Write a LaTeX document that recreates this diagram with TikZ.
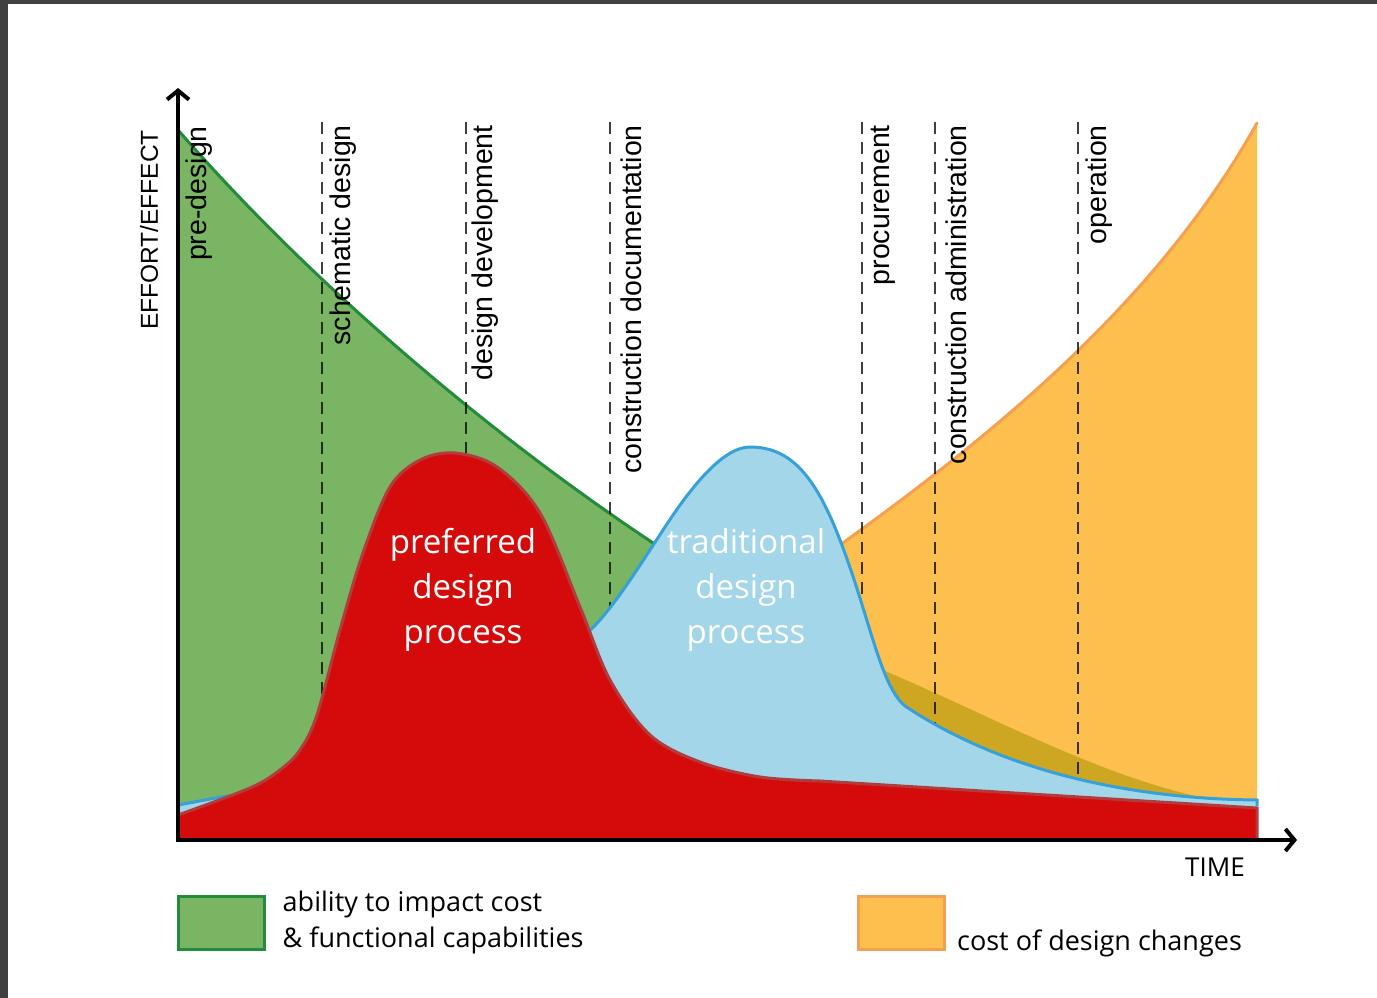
\documentclass[tikz,border=0pt]{standalone}
\usepackage{fontspec}
\setmainfont{Liberation Sans}
\newfontfamily\keyfont{Open Sans}
\usetikzlibrary{positioning,arrows.meta}

\definecolor{abilgreen}{RGB}{121,181,98}
\definecolor{abilline}{RGB}{34,139,60}
\definecolor{costorange}{RGB}{253,192,79}
\definecolor{costline}{RGB}{245,160,80}
\definecolor{overlap}{RGB}{205,166,34}
\definecolor{tradblue}{RGB}{162,214,232}
\definecolor{tradline}{RGB}{55,160,215}
\definecolor{prefred}{RGB}{213,11,11}
\definecolor{prefline}{RGB}{178,60,60}
\definecolor{framegrey}{RGB}{64,64,64}

% curves, in pixel units (y downwards)
\newcommand{\greencurve}{(178,130) .. controls (378,360) and (678,584) .. (878,668) .. controls (988,714) and (1105,780) .. (1215,800)}
\newcommand{\orangecurve}{(800,578) -- (840,545) .. controls (990,437) and (1157,303) .. (1257,123)}
\newcommand{\bluecurve}{(178,805) .. controls (200,801) and (215,798) .. (227,796) -- (450,780) -- (575,650) -- (585,635) .. controls (610,614) and (640,565) .. (665,527) .. controls (695,481) and (725,447) .. (750,447) .. controls (790,447) and (815,475) .. (840,540) .. controls (870,618) and (880,685) .. (905,706) .. controls (950,736) and (1060,798) .. (1257,800)}
\newcommand{\redcurve}{plot[smooth,tension=0.55] coordinates {(178,815) (250,788) (280,770) (300,750) (317,715) (340,630) (363,553) (390,487) (420,460) (455,453) (497,467) (540,513) (580,607) (610,680) (650,735) (700,762) (760,777) (820,781)} -- (1257,808)}

\begin{document}
\begin{tikzpicture}[x=1pt, y=-1pt,
	plabel/.style={rotate=90, anchor=east, inner sep=0pt, font=\fontsize{28.5}{30}\selectfont},
	proclabel/.style={text=white, align=center, inner sep=0pt, font=\keyfont\fontsize{33}{45}\selectfont},
	phaseline/.style={black, opacity=0.75, line width=1.5pt, dash pattern=on 12pt off 8pt},
	keybox/.style={rectangle, line width=3pt, minimum width=86pt, minimum height=53pt, inner sep=0pt},
	legtext/.style={align=left, inner sep=0pt, font=\keyfont\fontsize{27}{36}\selectfont},
	axisline/.style={line width=4pt, >={Straight Barb[length=9pt,width=22pt]}, <->}]
	\useasboundingbox (0,0) rectangle (1377,998);
	\fill[framegrey] (0,0) rectangle (1377,4);
	\fill[framegrey] (0,0) rectangle (8,998);

	% ability to impact cost
	\fill[abilgreen] \greencurve -- (1215,840) -- (178,840) -- cycle;
	\draw[abilline, line width=3pt] \greencurve;

	% cost of design changes
	\fill[costorange] \orangecurve -- (1257,840) -- (800,840) -- cycle;
	\begin{scope}
		\clip \greencurve -- (1215,840) -- (178,840) -- cycle;
		\fill[overlap] \orangecurve -- (1257,840) -- (800,840) -- cycle;
	\end{scope}
	\draw[costline, line width=3pt, line cap=round] \orangecurve;

	\foreach \x in {322,466,610,862,935,1078}
		\draw[phaseline] (\x,122) -- (\x,840);

	% traditional design process
	\fill[tradblue] \bluecurve -- (1257,806) -- (1257,840) -- (178,840) -- cycle;
	\draw[tradline, line width=3pt] \bluecurve -- (1257,806);

	% preferred design process
	\fill[prefred] \redcurve -- (1257,840) -- (178,840) -- cycle;
	\draw[prefline, line width=3pt] \redcurve -- (1257,840);

	\node[proclabel] (pref) at (463,590) {preferred\\design\\process};
	\node[proclabel] (trad) at (746,590) {traditional\\design\\process};

	\coordinate (orig) at (178,840);
	\coordinate (ytip) at (178,88);
	\coordinate (xtip) at (1297,840);
	\draw[axisline] (ytip) -- (orig) -- (xtip);

	\node[plabel, font=\fontsize{24.5}{26}\selectfont] (effort) at (149,130) {EFFORT/EFFECT};
	\node[anchor=east, inner sep=0pt, font=\keyfont\fontsize{26}{28}\selectfont] (time) at (1245,867) {TIME};

	\node[plabel] (predes) at (199,126) {pre-design};
	\node[plabel] (schem) at (343,125) {schematic design};
	\node[plabel] (devel) at (485,125) {design development};
	\node[plabel] (cdocs) at (631,125) {construction documentation};
	\node[plabel] (procu) at (883,125) {procurement};
	\node[plabel] (cadmin) at (956,125) {construction administration};
	\node[plabel] (operat) at (1099,125) {operation};

	% legend
	\node[keybox, fill=abilgreen, draw=abilline] (gkey) at (221,922.5) {};
	\node[legtext, right=17pt of gkey] (gtext) {ability to impact cost\\\& functional capabilities};
	\node[keybox, fill=costorange, draw=costline] (okey) at (901.5,922.5) {};
	\node[legtext, right=11pt of okey.south east, anchor=base west] (otext) {cost of design changes};
\end{tikzpicture}
\end{document}
